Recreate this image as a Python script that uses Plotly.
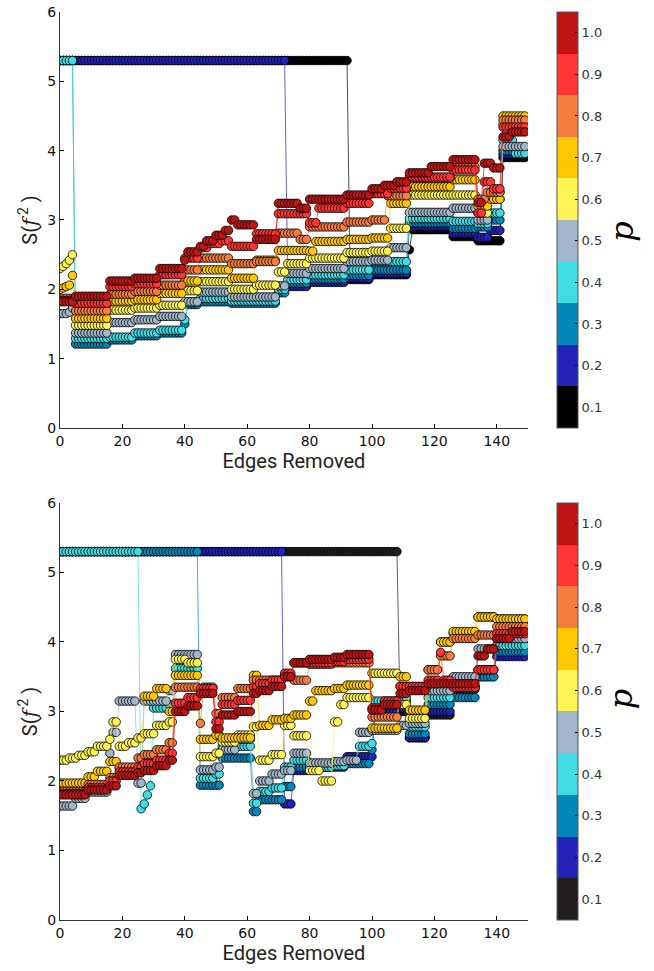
import plotly.graph_objects as go

# ---------------- data ----------------
P_VALUES = [0.1, 0.2, 0.3, 0.4, 0.5, 0.6, 0.7, 0.8, 0.9, 1.0]
P_TICKS = ["0.1", "0.2", "0.3", "0.4", "0.5", "0.6", "0.7", "0.8", "0.9", "1.0"]
COLORS_TOP = ["#000000", "#2222b8", "#0088bb", "#40dce4", "#a2b6ca",
              "#fff455", "#ffc800", "#f57d3f", "#ff3434", "#c01414"]
COLORS_BOT = ["#221e1f", "#2222b8", "#0088bb", "#40dce4", "#a2b6ca",
              "#fff455", "#ffc800", "#f57d3f", "#ff3434", "#c01414"]
X_TICKS = [0, 20, 40, 60, 80, 100, 120, 140]
Y_TICKS = [0, 1, 2, 3, 4, 5, 6]

# values as runs of (S value, number of consecutive edge counts), starting at 0 edges removed
TOP_P01 = [(5.30, 93), (2.14, 7), (2.21, 12), (2.57, 1), (2.86, 13), (2.76, 8), (2.70, 8), (3.90, 8)]
TOP_P02 = [(5.30, 73), (2.04, 7), (2.10, 12), (2.16, 8), (2.23, 12), (2.91, 14), (2.81, 8), (2.75, 4),
           (2.85, 4), (3.95, 8)]
TOP_P03 = [(5.30, 5), (1.21, 11), (1.27, 8), (1.33, 8), (1.37, 8), (1.50, 1), (1.78, 4), (1.82, 10),
           (1.80, 8), (1.80, 7), (1.95, 3), (2.09, 7), (2.15, 12), (2.20, 8), (2.28, 12), (2.96, 14),
           (2.88, 8), (2.90, 4), (3.00, 4), (4.00, 8)]
TOP_P04 = [(5.30, 5), (1.29, 11), (1.31, 8), (1.37, 8), (1.41, 8), (1.56, 1), (1.82, 4), (1.87, 10),
           (1.83, 8), (1.83, 7), (2.00, 3), (2.14, 7), (2.21, 12), (2.28, 8), (2.40, 12), (3.02, 14),
           (2.98, 8), (2.95, 4), (3.10, 4), (4.15, 4), (3.96, 4)]
TOP_P05 = [(1.65, 3), (1.67, 1), (1.73, 1), (1.37, 11), (1.52, 8), (1.56, 8), (1.61, 8), (1.82, 5),
           (1.96, 10), (1.89, 8), (1.89, 7), (2.05, 3), (2.23, 7), (2.30, 12), (2.40, 8), (2.42, 6),
           (2.60, 6), (3.11, 14), (3.17, 8), (3.00, 4), (3.30, 4), (4.06, 8)]
TOP_P06 = [(2.30, 1), (2.33, 1), (2.37, 1), (2.42, 1), (2.50, 1), (1.48, 11), (1.70, 8), (1.73, 8),
           (1.77, 8), (1.98, 5), (2.11, 10), (2.00, 8), (2.06, 7), (2.25, 3), (2.37, 7), (2.45, 12),
           (2.53, 8), (2.55, 6), (2.88, 6), (3.36, 14), (3.36, 8), (3.10, 4), (3.40, 4), (4.38, 8)]
TOP_P07 = [(2.00, 1), (2.02, 1), (2.04, 1), (2.06, 1), (2.20, 1), (1.58, 11), (1.83, 8), (1.85, 8),
           (1.94, 8), (2.12, 5), (2.28, 10), (2.16, 8), (2.42, 7), (2.56, 3), (2.56, 7), (2.55, 2),
           (2.69, 10), (2.72, 8), (2.74, 6), (3.24, 6), (3.48, 14), (3.58, 8), (3.20, 4), (3.30, 4),
           (4.50, 8)]
TOP_P08 = [(1.87, 5), (1.69, 11), (1.93, 8), (1.97, 8), (2.06, 8), (2.28, 5), (2.45, 10), (2.37, 8),
           (2.40, 7), (2.81, 3), (2.81, 4), (2.72, 3), (2.90, 12), (2.97, 8), (3.00, 5), (3.35, 7),
           (3.60, 14), (3.77, 8), (3.30, 3), (3.40, 5), (4.44, 8)]
TOP_P09 = [(1.84, 5), (1.80, 11), (2.04, 8), (2.08, 8), (2.21, 8), (2.45, 5), (2.60, 3), (2.66, 4),
           (2.70, 3), (2.62, 8), (2.80, 7), (3.09, 3), (3.09, 7), (2.96, 3), (3.17, 9), (3.24, 8),
           (3.38, 6), (3.46, 6), (3.62, 14), (3.72, 8), (3.10, 2), (3.55, 3), (3.45, 3), (4.34, 8)]
TOP_P10 = [(1.82, 5), (1.90, 11), (2.12, 8), (2.16, 8), (2.30, 8), (2.42, 1), (2.54, 4), (2.62, 2),
           (2.70, 3), (2.78, 3), (2.85, 2), (3.00, 2), (2.93, 6), (2.72, 7), (3.24, 3), (3.24, 4),
           (3.17, 3), (3.30, 12), (3.36, 8), (3.45, 4), (3.50, 4), (3.55, 4), (3.68, 7), (3.77, 7),
           (3.87, 8), (3.25, 2), (3.82, 3), (3.75, 3), (4.20, 3), (4.27, 5)]

BOT_P01 = [(5.30, 109), (3.00, 3), (2.62, 6), (2.95, 8), (3.32, 8), (3.50, 6), (3.95, 10)]
BOT_P02 = [(5.30, 72), (1.67, 3), (2.15, 5), (2.20, 8), (2.20, 4), (2.35, 8), (2.35, 1), (3.00, 8),
           (3.05, 3), (2.63, 6), (3.00, 8), (3.36, 8), (3.60, 6), (3.79, 10)]
BOT_P03 = [(5.30, 45), (1.94, 5), (1.94, 2), (2.33, 10), (1.56, 2), (1.73, 8), (1.92, 3), (2.20, 5),
           (2.20, 8), (2.22, 4), (2.25, 8), (2.45, 1), (3.10, 8), (3.15, 3), (2.68, 6), (3.10, 8),
           (3.20, 8), (3.50, 6), (3.86, 10)]
BOT_P04 = [(5.30, 26), (1.60, 1), (1.67, 1), (1.80, 1), (1.93, 1), (3.05, 5), (3.10, 2), (3.62, 8),
           (2.04, 5), (2.10, 2), (2.50, 10), (1.68, 2), (1.85, 4), (1.90, 4), (2.20, 3), (2.30, 5),
           (2.20, 8), (2.22, 4), (2.30, 4), (2.50, 4), (2.54, 1), (3.15, 8), (3.20, 3), (2.78, 6),
           (3.20, 8), (3.35, 8), (3.60, 6), (3.95, 10)]
BOT_P05 = [(1.64, 5), (1.75, 4), (1.84, 7), (2.40, 1), (2.70, 2), (3.15, 6), (1.97, 2), (3.15, 8),
           (3.30, 2), (3.82, 8), (2.16, 5), (2.20, 2), (2.45, 5), (2.60, 5), (1.82, 2), (2.00, 4),
           (2.10, 4), (2.15, 3), (2.40, 5), (2.26, 8), (2.28, 4), (2.30, 4), (2.70, 4), (2.73, 9),
           (2.80, 3), (2.83, 6), (3.30, 8), (3.50, 8), (3.90, 6), (4.05, 10)]
BOT_P06 = [(2.30, 3), (2.33, 3), (2.37, 3), (2.42, 3), (2.50, 4), (2.60, 1), (2.85, 2), (2.50, 3),
           (2.55, 3), (2.62, 2), (2.68, 4), (2.80, 4), (2.85, 2), (3.75, 4), (3.70, 4), (2.35, 5),
           (2.40, 2), (2.56, 5), (2.66, 5), (2.78, 2), (2.30, 4), (2.38, 4), (2.80, 3), (2.65, 5),
           (2.15, 4), (2.00, 4), (2.85, 2), (3.10, 2), (3.20, 8), (3.55, 9), (3.10, 3), (2.90, 6),
           (3.40, 4), (4.00, 4), (4.12, 8), (4.36, 6), (4.33, 10)]
BOT_P07 = [(1.97, 9), (2.06, 3), (2.14, 4), (2.28, 3), (2.18, 6), (2.20, 2), (3.22, 4), (3.33, 4),
           (3.00, 2), (3.52, 8), (2.60, 5), (2.66, 2), (2.62, 10), (3.52, 2), (2.80, 4), (2.88, 4),
           (2.90, 3), (2.95, 5), (3.15, 2), (3.30, 6), (3.33, 4), (3.38, 8), (2.76, 9), (3.50, 3),
           (3.02, 6), (3.60, 4), (4.00, 4), (4.15, 8), (4.36, 6), (4.33, 10)]
BOT_P08 = [(1.85, 9), (1.95, 7), (2.05, 3), (2.20, 6), (2.33, 2), (2.38, 4), (2.45, 4), (2.55, 2),
           (3.35, 8), (2.83, 1), (3.35, 4), (2.97, 2), (3.20, 5), (3.33, 5), (3.45, 2), (3.45, 8),
           (3.50, 3), (3.45, 5), (3.68, 8), (3.70, 4), (3.70, 8), (2.92, 9), (3.36, 3), (3.36, 6),
           (3.60, 4), (3.80, 4), (4.05, 8), (4.10, 6), (4.22, 10)]
BOT_P09 = [(1.82, 9), (1.90, 7), (2.00, 3), (2.13, 6), (2.20, 2), (2.25, 4), (2.30, 4), (2.40, 2),
           (3.12, 4), (3.20, 4), (3.33, 5), (2.85, 2), (3.10, 5), (3.16, 5), (3.35, 2), (3.40, 4),
           (3.45, 4), (3.55, 3), (3.70, 5), (3.70, 8), (3.72, 4), (3.75, 8), (3.05, 4), (3.15, 5),
           (3.36, 3), (3.36, 6), (3.45, 4), (3.85, 1), (3.45, 3), (3.35, 8), (3.60, 6), (4.12, 10)]
BOT_P10 = [(1.80, 9), (1.87, 7), (1.93, 3), (2.08, 6), (2.12, 2), (2.15, 4), (2.22, 4), (2.30, 2),
           (3.00, 4), (3.08, 4), (3.26, 5), (2.75, 2), (2.95, 5), (3.00, 5), (3.26, 2), (3.30, 4),
           (3.36, 4), (3.50, 3), (3.70, 5), (3.75, 8), (3.78, 4), (3.82, 8), (3.02, 4), (3.10, 5),
           (3.26, 3), (3.30, 6), (3.40, 8), (3.40, 8), (3.80, 3), (3.90, 3), (4.05, 5), (4.15, 5)]

TOP_SERIES = [TOP_P01, TOP_P02, TOP_P03, TOP_P04, TOP_P05, TOP_P06, TOP_P07, TOP_P08, TOP_P09, TOP_P10]
BOT_SERIES = [BOT_P01, BOT_P02, BOT_P03, BOT_P04, BOT_P05, BOT_P06, BOT_P07, BOT_P08, BOT_P09, BOT_P10]


def expand(runs):
    out = []
    for v, n in runs:
        out.extend([v] * n)
    return out


def rgba(hexc, a):
    h = hexc.lstrip("#")
    r, g, b = int(h[0:2], 16), int(h[2:4], 16), int(h[4:6], 16)
    return f"rgba({r},{g},{b},{a})"


def colorscale(colors):
    cs = []
    n = len(colors)
    for i, c in enumerate(colors):
        cs.append([i / n, c])
        cs.append([(i + 1) / n, c])
    return cs


fig = go.Figure()

for series, colors, xa, ya in [(TOP_SERIES, COLORS_TOP, "x", "y"), (BOT_SERIES, COLORS_BOT, "x2", "y2")]:
    for runs, col in zip(series, colors):
        yv = expand(runs)
        xv = list(range(len(yv)))
        fig.add_trace(go.Scatter(
            x=xv, y=yv, mode="lines+markers", xaxis=xa, yaxis=ya,
            line=dict(color=rgba(col, 0.7), width=1),
            marker=dict(size=8.5, color=col, line=dict(color="black", width=0.8)),
            showlegend=False, hoverinfo="skip"))

TOP_DOM = [0.5419, 1.0]
BOT_DOM = [0.0, 0.4593]

for colors, xa, ya, dom in [(COLORS_TOP, "x", "y", TOP_DOM), (COLORS_BOT, "x2", "y2", BOT_DOM)]:
    fig.add_trace(go.Scatter(
        x=[-50], y=[-50], mode="markers", xaxis=xa, yaxis=ya, showlegend=False, hoverinfo="skip",
        marker=dict(color=[0.5], colorscale=colorscale(colors), cmin=0.05, cmax=1.05, showscale=True,
                    colorbar=dict(
                        x=1.062, xanchor="left", xpad=0, ypad=0,
                        y=(dom[0] + dom[1]) / 2, yanchor="middle", len=dom[1] - dom[0], lenmode="fraction",
                        thickness=21, thicknessmode="pixels",
                        outlinecolor="#555555", outlinewidth=1,
                        tickvals=P_VALUES, ticktext=P_TICKS,
                        ticks="inside", ticklen=3, tickcolor="black",
                        tickfont=dict(family="DejaVu Sans", size=13, color="#333333")))))

axis_common = dict(showgrid=False, zeroline=False, showline=True, linecolor="#333333", linewidth=1,
                   ticks="inside", ticklen=4, tickcolor="black", mirror=False,
                   tickfont=dict(family="DejaVu Sans", size=14, color="#111111"))

title_font = dict(family="Liberation Sans Narrow, Roboto, sans-serif", size=20, color="#222222")
ytitle = "S(<i><span style='font-family:DejaVu Serif'>f</span></i><sup> 2</sup> )"

fig.update_layout(
    width=654, height=971,
    margin=dict(l=60, r=126, t=12, b=51, autoexpand=False),
    paper_bgcolor="white", plot_bgcolor="white",
    xaxis=dict(domain=[0, 1], anchor="y", range=[0, 150], tickvals=X_TICKS,
               title=dict(text="Edges Removed", font=title_font, standoff=6), **axis_common),
    yaxis=dict(domain=TOP_DOM, anchor="x", range=[0, 6], tickvals=Y_TICKS,
               title=dict(text=ytitle, font=title_font, standoff=4), **axis_common),
    xaxis2=dict(domain=[0, 1], anchor="y2", range=[0, 150], tickvals=X_TICKS,
                title=dict(text="Edges Removed", font=title_font, standoff=6), **axis_common),
    yaxis2=dict(domain=BOT_DOM, anchor="x2", range=[0, 6], tickvals=Y_TICKS,
                title=dict(text=ytitle, font=title_font, standoff=4), **axis_common),
    annotations=[
        dict(text="<i>p</i>", x=1.245, y=(TOP_DOM[0] + TOP_DOM[1]) / 2, xref="paper", yref="paper",
             showarrow=False, textangle=-90, font=dict(family="DejaVu Serif", size=32, color="black")),
        dict(text="<i>p</i>", x=1.245, y=(BOT_DOM[0] + BOT_DOM[1]) / 2, xref="paper", yref="paper",
             showarrow=False, textangle=-90, font=dict(family="DejaVu Serif", size=32, color="black")),
    ],
)

fig.write_html("out.html", config={"displayModeBar": False},
               post_script="document.body.style.margin='0';document.body.style.overflow='hidden';")
